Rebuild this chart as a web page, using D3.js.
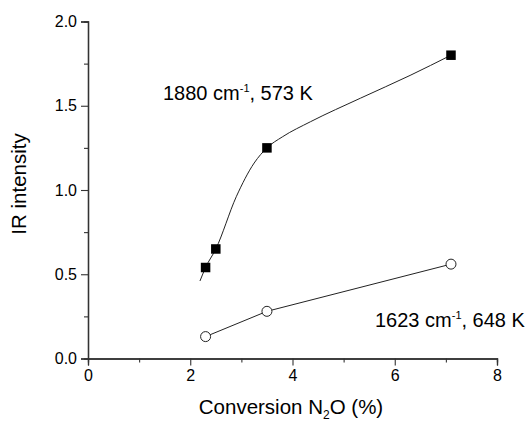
<!DOCTYPE html>
<html>
<head>
<meta charset="utf-8">
<script src="https://cdn.jsdelivr.net/npm/d3@7"></script>
<style>
  body { margin: 0; background: #fff; }
  text { font-family: Arial, "Liberation Sans", sans-serif; fill: #000; }
</style>
</head>
<body>
<script>
// data
var sqX = [2.3, 2.5, 3.5, 7.1]
var sqY = [0.54, 0.65, 1.25, 1.80]
var ciX = [2.3, 3.5, 7.1]
var ciY = [0.13, 0.28, 0.56]
// fitted curve drawn through the squares
var fitX = [2.19, 2.3, 2.5, 2.9, 3.25, 3.5, 3.8, 4.35, 5.33, 6.3, 7.1]
var fitY = [0.46, 0.54, 0.65, 0.96, 1.16, 1.25, 1.315, 1.405, 1.545, 1.68, 1.80]
var xTicks = [0, 2, 4, 6, 8]
var xMinor = [1, 3, 5, 7]
var yTicks = [0, 0.5, 1.0, 1.5, 2.0]
var yMinor = [0.25, 0.75, 1.25, 1.75]

var W = 532, H = 422
var margin = { top: 21.5, left: 88, right: 35, bottom: 63.5 }
var w = W - margin.left - margin.right
var h = H - margin.top - margin.bottom

var sq = sqX.map(function (x, i) { return { x: x, y: sqY[i] } })
var ci = ciX.map(function (x, i) { return { x: x, y: ciY[i] } })
var fit = fitX.map(function (x, i) { return { x: x, y: fitY[i] } })

var xScale = d3.scaleLinear().domain([0, 8]).range([0, w])
var yScale = d3.scaleLinear().domain([0, 2]).range([h, 0])

var svg = d3.select('body').append('svg')
    .attr('width', W)
    .attr('height', H)
  .append('g')
    .attr('transform', 'translate(' + margin.left + ',' + margin.top + ')')

// axes
var xAxis = d3.axisBottom(xScale).tickValues(xTicks).tickSize(7).tickPadding(4)
  .tickFormat(d3.format('d'))
var xAxisMinor = d3.axisBottom(xScale).tickValues(xMinor).tickSize(4).tickFormat('')
var yAxis = d3.axisLeft(yScale).tickValues(yTicks).tickSize(7).tickPadding(4)
  .tickFormat(d3.format('.1f'))
var yAxisMinor = d3.axisLeft(yScale).tickValues(yMinor).tickSize(4).tickFormat('')

function styleAxis(g) {
  g.select('.domain').attr('stroke', '#333').attr('stroke-width', 1.3)
  g.selectAll('line').attr('stroke', '#333').attr('stroke-width', 1.1)
  g.selectAll('text').style('font-size', '16px').attr('fill', '#000')
}

svg.append('g').attr('transform', 'translate(0,' + h + ')').call(xAxisMinor).call(styleAxis)
svg.append('g').attr('transform', 'translate(0,' + h + ')').call(xAxis).call(styleAxis)
svg.append('g').call(yAxisMinor).call(styleAxis)
svg.append('g').call(yAxis).call(styleAxis)

// lines
var line = d3.line()
  .x(function (d) { return xScale(d.x) })
  .y(function (d) { return yScale(d.y) })

svg.append('path').datum(fit)
  .attr('d', line.curve(d3.curveMonotoneX))
  .attr('fill', 'none')
  .attr('stroke', '#222')
  .attr('stroke-width', 1)

svg.append('path').datum(ci)
  .attr('d', line.curve(d3.curveLinear))
  .attr('fill', 'none')
  .attr('stroke', '#222')
  .attr('stroke-width', 1)

// markers
svg.selectAll('rect.sq')
  .data(sq)
  .enter()
  .append('rect')
    .attr('class', 'sq')
    .attr('x', function (d) { return xScale(d.x) - 4.75 })
    .attr('y', function (d) { return yScale(d.y) - 4.75 })
    .attr('width', 9.5)
    .attr('height', 9.5)
    .attr('fill', '#000')

svg.selectAll('circle.ci')
  .data(ci)
  .enter()
  .append('circle')
    .attr('class', 'ci')
    .attr('cx', function (d) { return xScale(d.x) })
    .attr('cy', function (d) { return yScale(d.y) })
    .attr('r', 5)
    .attr('fill', '#fff')
    .attr('stroke', '#222')
    .attr('stroke-width', 1)

// series labels
function label(x, y, a, b) {
  var t = svg.append('text')
    .attr('x', x)
    .attr('y', y)
    .style('font-size', '20px')
  t.append('tspan').text(a)
  t.append('tspan').attr('dy', -8).style('font-size', '11px').text('-1')
  t.append('tspan').attr('dy', 8).text(b)
}
label(163 - margin.left, 100 - margin.top, '1880 cm', ', 573 K')
label(375 - margin.left, 327 - margin.top, '1623 cm', ', 648 K')

// axis titles
var xt = svg.append('text')
  .attr('x', 291 - margin.left)
  .attr('y', h + 55)
  .style('text-anchor', 'middle')
  .style('font-size', '20.5px')
xt.append('tspan').text('Conversion N')
xt.append('tspan').attr('dy', 5).style('font-size', '12px').text('2')
xt.append('tspan').attr('dy', -5).text('O (%)')

svg.append('text')
  .attr('transform', 'rotate(-90)')
  .attr('x', -(184 - margin.top))
  .attr('y', 26 - margin.left)
  .style('text-anchor', 'middle')
  .style('font-size', '20.5px')
  .text('IR intensity')
</script>
</body>
</html>
